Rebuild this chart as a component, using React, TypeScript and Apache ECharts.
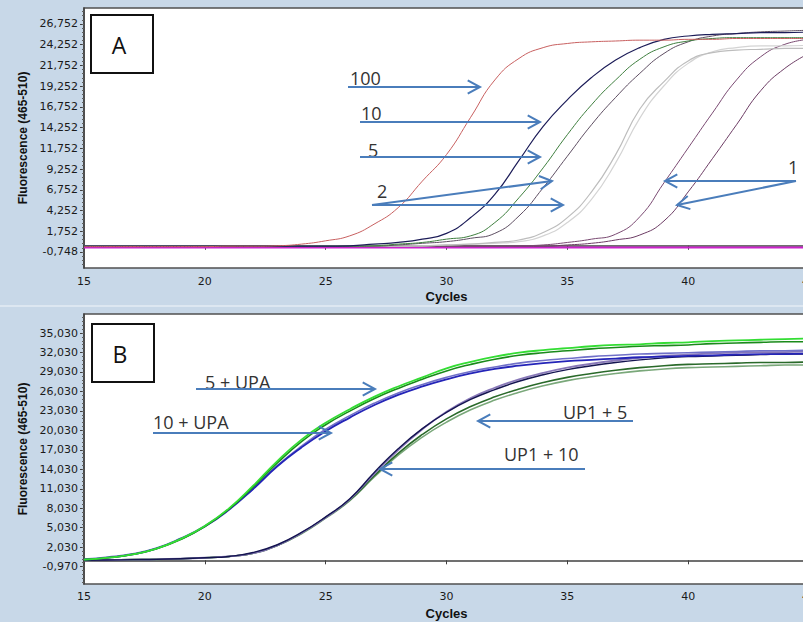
import React, { useEffect, useRef } from "react";
import * as echarts from "echarts";

// ---------- data ----------
const cycles = [15,16,17,18,19,20,21,22,23,24,25,26,27,28,29,30,31,32,33,34,35,36,37,38,39,40,41,42,43,44,45];

// Panel A (dilution series), fluorescence values per cycle
const a100 = [-0.1,-0.1,-0.1,-0.1,-0.1,-0.1,-0.05,-0.05,0.0,0.2,0.6,1.2,2.6,4.6,7.8,11.0,15.5,20.0,22.6,23.9,24.4,24.6,24.7,24.8,24.8,24.9,24.9,25.0,25.0,25.0,25.0];
const a10 = [-0.05,-0.05,-0.05,-0.05,-0.05,-0.05,-0.05,-0.05,-0.05,-0.05,-0.05,0.0,0.2,0.4,0.8,1.5,3.4,6.2,10.3,14.4,17.6,20.3,22.4,23.9,24.9,25.3,25.5,25.6,25.7,25.7,25.8];
const a5a = [-0.05,-0.05,-0.05,-0.05,-0.05,-0.05,-0.05,-0.05,-0.05,-0.05,-0.05,-0.05,0.0,0.2,0.4,0.8,1.2,2.8,5.8,9.4,13.4,17.0,20.0,22.5,24.0,24.7,25.0,25.1,25.1,25.1,25.1];
const a5b = [-0.05,-0.05,-0.05,-0.05,-0.05,-0.05,-0.05,-0.05,-0.05,-0.05,-0.05,-0.05,-0.05,0.1,0.3,0.5,0.9,1.5,3.6,7.0,10.8,14.6,17.9,20.8,23.2,24.6,25.3,25.6,25.8,25.9,26.0];
const a2a = [-0.05,-0.05,-0.05,-0.05,-0.05,-0.05,-0.05,-0.05,-0.05,-0.05,-0.05,-0.05,-0.05,-0.05,0.0,0.1,0.2,0.4,0.7,1.6,3.4,6.5,11.0,16.5,19.8,22.3,23.3,23.6,23.7,23.8,23.8];
const a2b = [-0.05,-0.05,-0.05,-0.05,-0.05,-0.05,-0.05,-0.05,-0.05,-0.05,-0.05,-0.05,-0.05,-0.05,0.0,0.1,0.2,0.3,0.5,1.2,2.8,5.6,10.0,15.4,19.3,22.0,23.4,23.9,24.1,24.1,24.2];
const a1a = [-0.05,-0.05,-0.05,-0.05,-0.05,-0.05,-0.05,-0.05,-0.05,-0.05,-0.05,-0.05,-0.05,-0.05,-0.05,-0.05,-0.05,-0.05,0.0,0.1,0.4,0.8,1.4,3.5,7.6,11.8,16.0,20.0,22.8,24.3,24.9];
const a1b = [-0.05,-0.05,-0.05,-0.05,-0.05,-0.05,-0.05,-0.05,-0.05,-0.05,-0.05,-0.05,-0.05,-0.05,-0.05,-0.05,-0.05,-0.05,-0.05,-0.05,0.1,0.3,0.7,1.3,3.0,6.5,10.5,14.6,18.7,21.4,23.2];
const aNeg = [-0.2,-0.2,-0.2,-0.2,-0.2,-0.2,-0.2,-0.2,-0.2,-0.2,-0.2,-0.2,-0.2,-0.2,-0.2,-0.2,-0.2,-0.2,-0.2,-0.2,-0.2,-0.2,-0.2,-0.2,-0.2,-0.2,-0.2,-0.2,-0.2,-0.2,-0.2];

// Panel B
const bUpaGreen = [0.1,0.4,0.9,1.8,3.3,5.3,8.0,11.5,15.3,18.6,21.2,23.3,25.2,26.8,28.2,29.6,30.6,31.4,32.0,32.4,32.7,33.0,33.2,33.3,33.5,33.6,33.8,33.9,34.0,34.1,34.2];
const bUpaGreen2 = [0.1,0.4,0.9,1.8,3.2,5.2,7.9,11.3,15.0,18.3,20.9,23.0,24.9,26.5,27.9,29.2,30.2,31.0,31.6,32.0,32.3,32.6,32.8,33.0,33.1,33.2,33.4,33.5,33.6,33.7,33.7];
const bUpaBlue = [0.1,0.4,0.9,1.8,3.3,5.2,7.8,11.0,14.5,17.4,19.9,22.0,23.9,25.5,26.8,27.9,28.8,29.5,30.0,30.4,30.7,30.9,31.1,31.3,31.4,31.5,31.6,31.7,31.8,31.8,31.9];
const bUpaBlue2 = [0.2,0.5,1.0,1.9,3.4,5.3,7.9,11.1,14.6,17.6,20.2,22.3,24.2,25.8,27.1,28.2,29.1,29.8,30.4,30.8,31.1,31.4,31.6,31.8,31.9,32.0,32.1,32.2,32.3,32.3,32.4];
const bUp1Navy = [0.0,0.05,0.1,0.15,0.25,0.4,0.6,1.2,2.4,4.3,6.7,9.5,13.5,17.2,20.3,22.8,24.8,26.3,27.6,28.6,29.4,30.0,30.5,30.9,31.2,31.4,31.5,31.6,31.7,31.8,31.8];
const bUp1Lav = [0.0,0.05,0.1,0.15,0.25,0.4,0.6,1.1,2.3,4.2,6.6,9.4,13.3,17.0,20.2,22.9,25.0,26.6,27.9,28.9,29.7,30.3,30.8,31.2,31.5,31.7,31.9,32.0,32.1,32.1,32.2];
const bUp1Green = [0.0,0.05,0.1,0.15,0.25,0.4,0.6,1.1,2.3,4.2,6.6,9.3,13.0,16.5,19.4,21.8,23.7,25.2,26.4,27.4,28.2,28.8,29.3,29.7,30.0,30.2,30.3,30.4,30.5,30.5,30.6];
const bUp1LightGreen = [0.0,0.05,0.1,0.15,0.25,0.4,0.6,1.1,2.3,4.1,6.5,9.2,12.8,16.2,19.0,21.3,23.2,24.7,25.9,26.9,27.7,28.3,28.8,29.2,29.5,29.7,29.8,29.9,30.0,30.1,30.1];

// tick labels
const yTicksA = [-0.748,1.752,4.252,6.752,9.252,11.752,14.252,16.752,19.252,21.752,24.252,26.752];
const yTicksB = [-0.97,2.03,5.03,8.03,11.03,14.03,17.03,20.03,23.03,26.03,29.03,32.03,35.03];

const BG = "#c8d8e8";
const ARROW = "#4a7dbb";
const TXT = "#333333";

function minorTicks(major: number[], step: number, sub: number, min: number, max: number) {
  const out: number[] = [];
  const start = major[0];
  for (let k = -sub * 2; k < (major.length + 2) * sub; k++) {
    const v = start + (k * step) / sub;
    if (v > min && v < max) out.push(Number(v.toFixed(4)));
  }
  return out;
}

function arrow(x1: number, y1: number, x2: number, y2: number) {
  const ang = Math.atan2(y2 - y1, x2 - x1);
  const L = 14;
  const a = 0.5;
  const p1 = [x2 - L * Math.cos(ang - a), y2 - L * Math.sin(ang - a)];
  const p2 = [x2 - L * Math.cos(ang + a), y2 - L * Math.sin(ang + a)];
  return [
    { type: "line", z: 100, shape: { x1, y1, x2, y2 }, style: { stroke: ARROW, lineWidth: 2 } },
    { type: "polyline", z: 100, shape: { points: [p1, [x2, y2], p2] }, style: { stroke: ARROW, lineWidth: 2, fill: null } },
  ];
}

function label(text: string, x: number, y: number) {
  return {
    type: "text",
    z: 100,
    x,
    y,
    style: { text, fontSize: 18, fontFamily: "Open Sans", fill: TXT, align: "left", verticalAlign: "middle" },
  };
}

function box(letter: string, x: number, y: number) {
  return [
    { type: "rect", z: 100, shape: { x, y, width: 62, height: 58 }, style: { fill: "#fff", stroke: "#111", lineWidth: 2 } },
    {
      type: "text",
      z: 101,
      x: x + 28,
      y: y + 30,
      style: { text: letter, fontSize: 23, fontFamily: "Open Sans", fill: "#111", align: "center", verticalAlign: "middle" },
    },
  ];
}

function line(name: string, vals: number[], color: string, width: number, xi: number, yi: number) {
  return {
    type: "line",
    name,
    xAxisIndex: xi,
    yAxisIndex: yi,
    data: cycles.map((c, i) => [c, vals[i]]),
    showSymbol: false,
    symbol: "none",
    smooth: 0.5,
    silent: true,
    lineStyle: { color, width },
  };
}

const fmt = (v: number) => v.toFixed(3).replace(".", ",");

export default function App() {
  const ref = useRef<HTMLDivElement>(null);
  useEffect(() => {
    if (!ref.current) return;
    const chart = echarts.init(ref.current, undefined, { renderer: "svg" });
    const minA = -2.68, maxA = 28.68, minB = -3.65, maxB = 37.97;
    const axisLine = { show: true, lineStyle: { color: "#404040", width: 1.5 } };
    const tickLabel = { fontFamily: "DejaVu Sans", fontSize: 11, color: "#1a1a1a" };
    const nameStyle = { fontFamily: "Liberation Sans", fontWeight: "bold", fontSize: 13, color: "#111" };
    const yNameStyle = { fontFamily: "Liberation Sans", fontWeight: "bold", fontSize: 12, color: "#111" };
    const xAx = (gi: number, gap: number, margin: number) => ({
      type: "value",
      gridIndex: gi,
      min: 15,
      max: 45,
      interval: 5,
      name: "Cycles",
      nameLocation: "middle",
      nameGap: gap,
      nameTextStyle: nameStyle,
      axisLine,
      axisTick: { show: true, length: 4, lineStyle: { color: "#404040" } },
      axisLabel: { ...tickLabel, margin },
      splitLine: { show: false },
    });
    const yAx = (gi: number, min: number, max: number, ticks: number[]) => ({
      type: "value",
      gridIndex: gi,
      position: "left",
      min,
      max,
      name: "Fluorescence (465-510)",
      nameLocation: "middle",
      nameGap: 49,
      nameTextStyle: yNameStyle,
      axisLine,
      axisTick: { show: true, length: 4, customValues: ticks, lineStyle: { color: "#404040" } },
      axisLabel: { ...tickLabel, margin: 6, customValues: ticks, formatter: fmt },
      splitLine: { show: false },
    });
    const yMinor = (gi: number, min: number, max: number, ticks: number[]) => ({
      type: "value",
      gridIndex: gi,
      position: "left",
      min,
      max,
      axisLine: { show: false },
      axisTick: { show: true, length: 2, customValues: ticks, lineStyle: { color: "#606060" } },
      axisLabel: { show: false },
      splitLine: { show: false },
    });

    const graphic: any[] = [
      { type: "rect", z: 0, shape: { x: 0, y: 305, width: 830, height: 2 }, style: { fill: "#dde7f1" } },
      ...box("A", 91, 15),
      ...box("B", 92, 324),
      label("100", 350, 78),
      ...arrow(348, 87, 480, 87),
      label("10", 361, 113),
      ...arrow(360, 122, 540, 122),
      label("5", 368, 150),
      ...arrow(360, 157, 540, 157),
      label("2", 377, 191),
      ...arrow(372, 205, 552, 181),
      ...arrow(372, 205, 563, 205),
      label("1", 788, 167),
      ...arrow(796, 181, 665, 181),
      ...arrow(796, 181, 677, 205),
      label("5 + UPA", 205, 382),
      ...arrow(196, 389, 375, 389),
      label("10 + UPA", 153, 422),
      ...arrow(153, 433, 331, 433),
      label("UP1 + 5", 563, 412),
      ...arrow(633, 421, 478, 421),
      label("UP1 + 10", 504, 454),
      ...arrow(585, 469, 380, 469),
    ];

    chart.setOption({
      animation: false,
      backgroundColor: BG,
      grid: [
        { left: 84, top: 8, width: 725, height: 260, show: true, backgroundColor: "#ffffff", borderColor: "#505050", borderWidth: 1.5 },
        { left: 84, top: 314, width: 725, height: 270, show: true, backgroundColor: "#ffffff", borderColor: "#505050", borderWidth: 1.5 },
      ],
      xAxis: [xAx(0, 22, 8), xAx(1, 23, 7)],
      yAxis: [
        yAx(0, minA, maxA, yTicksA),
        yMinor(0, minA, maxA, minorTicks(yTicksA, 2.5, 5, minA, maxA)),
        yAx(1, minB, maxB, yTicksB),
        yMinor(1, minB, maxB, minorTicks(yTicksB, 3, 5, minB, maxB)),
      ],
      series: [
        line("neg", aNeg, "#cc22cc", 2, 0, 0),
        line("1b", a1b, "#6c3c64", 1, 0, 0),
        line("1a", a1a, "#7a4a72", 1, 0, 0),
        line("2b", a2b, "#d4d4d4", 1.2, 0, 0),
        line("2a", a2a, "#bdbdbd", 1.2, 0, 0),
        line("5b", a5b, "#5e4e62", 1, 0, 0),
        line("5a", a5a, "#3f7f3f", 1, 0, 0),
        line("10", a10, "#1c1c58", 1.2, 0, 0),
        line("100", a100, "#c86060", 1, 0, 0),
        line("UP1 light green", bUp1LightGreen, "#7aa87a", 1.6, 1, 2),
        line("UP1 green", bUp1Green, "#2a6a2a", 1.6, 1, 2),
        line("UP1 lavender", bUp1Lav, "#8878b8", 1.8, 1, 2),
        line("UP1 navy", bUp1Navy, "#141450", 1.4, 1, 2),
        line("UPA blue2", bUpaBlue2, "#7070c8", 1.6, 1, 2),
        line("UPA blue", bUpaBlue, "#2424b8", 1.8, 1, 2),
        line("UPA green2", bUpaGreen2, "#1a8a1a", 1.6, 1, 2),
        line("UPA green", bUpaGreen, "#33dd33", 1.8, 1, 2),
      ],
      graphic,
    });
    return () => chart.dispose();
  }, []);
  return (
    <div style={{ position: "fixed", left: 0, top: 0, width: 803, height: 622, overflow: "hidden", background: BG }}>
      <div ref={ref} style={{ width: 830, height: 622 }} />
    </div>
  );
}
